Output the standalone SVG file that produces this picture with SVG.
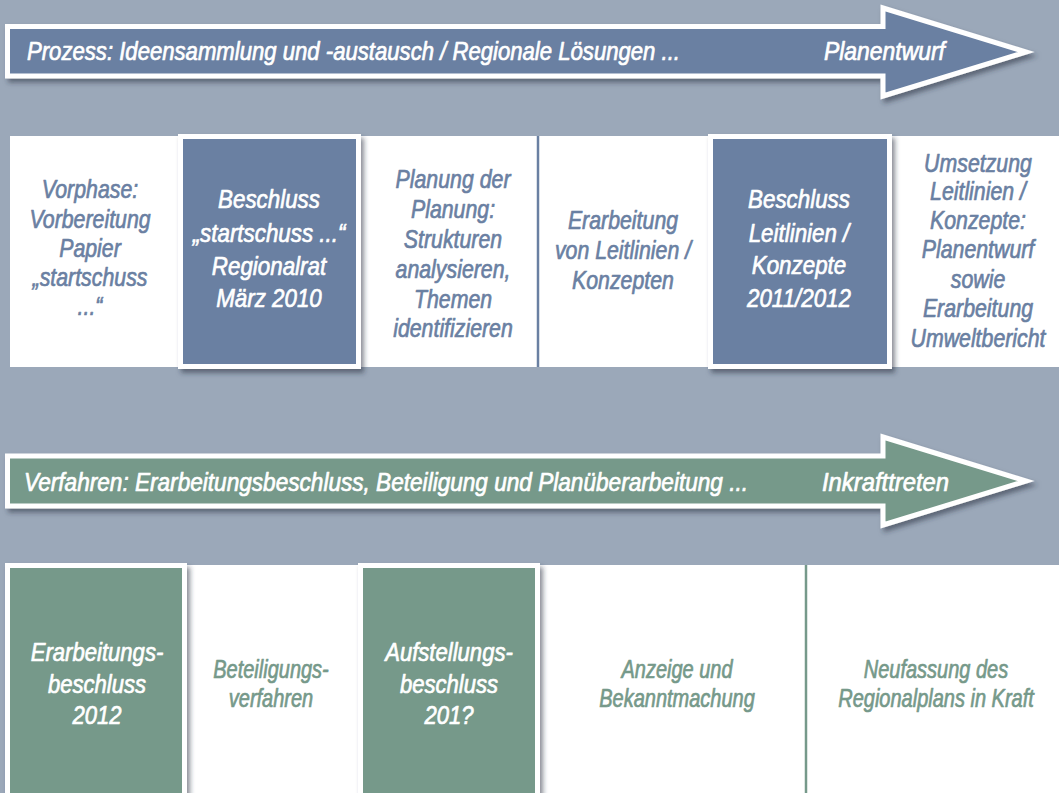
<svg xmlns="http://www.w3.org/2000/svg" width="1059" height="793" viewBox="0 0 1059 793">
  <defs>
    <filter id="shadow" x="-10%" y="-20%" width="130%" height="150%">
      <feDropShadow dx="3" dy="4" stdDeviation="2.5" flood-color="#26303d" flood-opacity="0.55"/>
    </filter>
    <style>
      text { font-family: "Liberation Sans", Arial, sans-serif; font-style: italic; text-anchor: middle; stroke-width: 0.7; stroke-linejoin: round; }
      .arrow-label { fill: #ffffff; stroke: #ffffff; font-size: 25px; text-anchor: start; }
      .blue-arrow { fill: #6a80a2; stroke: #ffffff; stroke-width: 5; }
      .green-arrow { fill: #76998a; stroke: #ffffff; stroke-width: 5; }
      .band { fill: #ffffff; }
      .key-blue { fill: #6a80a2; stroke: #ffffff; stroke-width: 5; }
      .key-green { fill: #76998a; stroke: #ffffff; stroke-width: 5; }
      .t-white { fill: #ffffff; stroke: #ffffff; font-size: 26px; }
      .t-blue { fill: #6a80a2; stroke: #6a80a2; font-size: 26px; }
      .t-green { fill: #76998a; stroke: #76998a; font-size: 25px; }
      .t-white2 { fill: #ffffff; stroke: #ffffff; font-size: 26px; }
      .div-blue { stroke: #6a80a2; stroke-width: 2.5; }
      .div-green { stroke: #76998a; stroke-width: 2.5; }
    </style>
  </defs>

  <!-- background -->
  <rect x="0" y="0" width="1059" height="793" fill="#9ba8b9"/>

  <!-- process arrow -->
  <g id="arrow-prozess">
    <path class="blue-arrow" filter="url(#shadow)" d="M7.5,26.5 L883,26.5 L883,8 L1026,52 L883,96 L883,76 L7.5,76 Z"/>
    <text class="arrow-label" x="27" y="60" textLength="653" lengthAdjust="spacingAndGlyphs">Prozess: Ideensammlung und -austausch / Regionale Lösungen ...</text>
    <text class="arrow-label" x="824" y="60" textLength="121" lengthAdjust="spacingAndGlyphs">Planentwurf</text>
  </g>

  <!-- process row -->
  <rect class="band" x="10" y="136" width="1049" height="231"/>

  <!-- procedure row -->
  <rect class="band" x="10" y="565" width="1049" height="228"/>

  <g id="connectors">
    <line class="div-blue" x1="538" y1="136" x2="538" y2="367"/>
    <line class="div-green" x1="806" y1="565" x2="806" y2="793"/>
  </g>

  <g id="vorphase">
    <g transform="translate(90 0) scale(0.82 1)">
      <text class="t-blue"><tspan x="0" y="198">Vorphase:</tspan><tspan x="0" y="228">Vorbereitung</tspan><tspan x="0" y="257">Papier</tspan><tspan x="0" y="286">„startschuss</tspan><tspan x="0" y="315">...“</tspan></text>
    </g>
  </g>

  <g id="beschluss-startschuss">
    <rect class="key-blue" filter="url(#shadow)" x="180.5" y="136.5" width="178" height="230"/>
    <g transform="translate(269 0) scale(0.86 1)">
      <text class="t-white"><tspan x="0" y="208">Beschluss</tspan><tspan x="0" y="242">„startschuss ...“</tspan><tspan x="0" y="275">Regionalrat</tspan><tspan x="0" y="307">März 2010</tspan></text>
    </g>
  </g>

  <g id="planung">
    <g transform="translate(453 0) scale(0.82 1)">
      <text class="t-blue"><tspan x="0" y="188">Planung der</tspan><tspan x="0" y="218">Planung:</tspan><tspan x="0" y="248">Strukturen</tspan><tspan x="0" y="278">analysieren,</tspan><tspan x="0" y="308">Themen</tspan><tspan x="0" y="337">identifizieren</tspan></text>
    </g>
  </g>

  <g id="erarbeitung-leitlinien">
    <g transform="translate(623 0) scale(0.82 1)">
      <text class="t-blue"><tspan x="0" y="229">Erarbeitung</tspan><tspan x="0" y="259">von Leitlinien /</tspan><tspan x="0" y="289">Konzepten</tspan></text>
    </g>
  </g>

  <g id="beschluss-leitlinien">
    <rect class="key-blue" filter="url(#shadow)" x="710.5" y="136.5" width="179" height="230"/>
    <g transform="translate(799 0) scale(0.86 1)">
      <text class="t-white"><tspan x="0" y="208">Beschluss</tspan><tspan x="0" y="242">Leitlinien /</tspan><tspan x="0" y="274">Konzepte</tspan><tspan x="0" y="307">2011/2012</tspan></text>
    </g>
  </g>

  <g id="umsetzung">
    <g transform="translate(978 0) scale(0.82 1)">
      <text class="t-blue"><tspan x="0" y="172">Umsetzung</tspan><tspan x="0" y="200">Leitlinien /</tspan><tspan x="0" y="229">Konzepte:</tspan><tspan x="0" y="258">Planentwurf</tspan><tspan x="0" y="288">sowie</tspan><tspan x="0" y="317">Erarbeitung</tspan><tspan x="0" y="347">Umweltbericht</tspan></text>
    </g>
  </g>

  <!-- procedure arrow -->
  <g id="arrow-verfahren">
    <path class="green-arrow" filter="url(#shadow)" d="M7.5,456 L883,456 L883,437 L1026,481 L883,525 L883,506 L7.5,506 Z"/>
    <text class="arrow-label" x="24" y="491" textLength="724" lengthAdjust="spacingAndGlyphs">Verfahren: Erarbeitungsbeschluss, Beteiligung und Planüberarbeitung ...</text>
    <text class="arrow-label" x="822" y="491" textLength="127" lengthAdjust="spacingAndGlyphs">Inkrafttreten</text>
  </g>

  <g id="erarbeitungsbeschluss">
    <rect class="key-green" filter="url(#shadow)" x="7.5" y="565.5" width="177" height="240"/>
    <g transform="translate(97 0) scale(0.85 1)">
      <text class="t-white2"><tspan x="0" y="661">Erarbeitungs-</tspan><tspan x="0" y="693">beschluss</tspan><tspan x="0" y="724">2012</tspan></text>
    </g>
  </g>

  <g id="beteiligungsverfahren">
    <g transform="translate(271 0) scale(0.8 1)">
      <text class="t-green"><tspan x="0" y="678">Beteiligungs-</tspan><tspan x="0" y="707">verfahren</tspan></text>
    </g>
  </g>

  <g id="aufstellungsbeschluss">
    <rect class="key-green" filter="url(#shadow)" x="360.5" y="565.5" width="177" height="240"/>
    <g transform="translate(449 0) scale(0.85 1)">
      <text class="t-white2"><tspan x="0" y="661">Aufstellungs-</tspan><tspan x="0" y="693">beschluss</tspan><tspan x="0" y="724">201?</tspan></text>
    </g>
  </g>

  <g id="anzeige">
    <g transform="translate(677 0) scale(0.8 1)">
      <text class="t-green"><tspan x="0" y="678">Anzeige und</tspan><tspan x="0" y="707">Bekanntmachung</tspan></text>
    </g>
  </g>

  <g id="neufassung">
    <g transform="translate(936 0) scale(0.8 1)">
      <text class="t-green"><tspan x="0" y="678">Neufassung des</tspan><tspan x="0" y="707">Regionalplans in Kraft</tspan></text>
    </g>
  </g>
</svg>
